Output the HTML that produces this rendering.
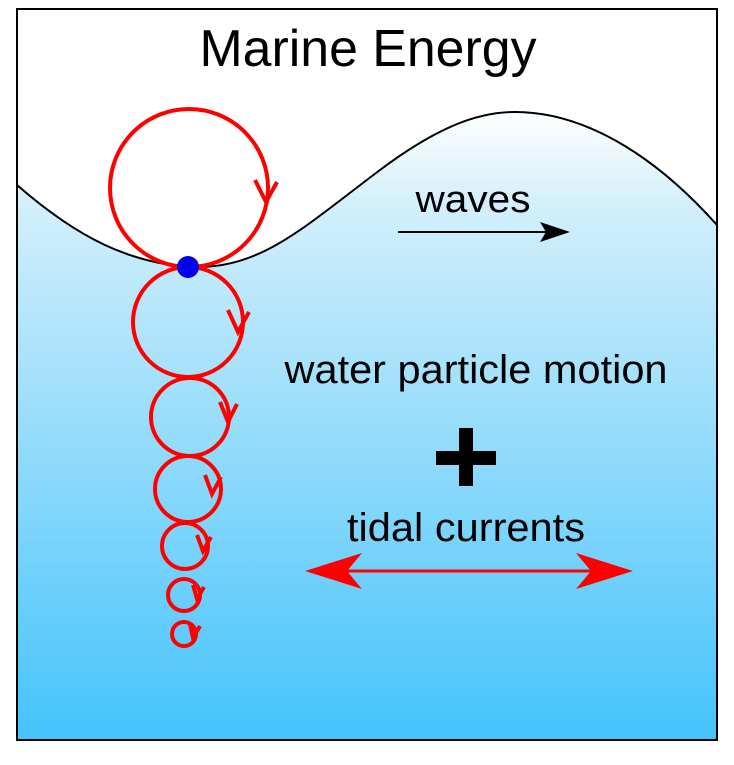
<!DOCTYPE html>
<html><head><style>body{margin:0;background:#fff}</style></head><body>
<svg width="734" height="760" viewBox="0 0 734 760" xmlns="http://www.w3.org/2000/svg">
<defs>
<linearGradient id="w" x1="0" y1="112" x2="0" y2="740" gradientUnits="userSpaceOnUse">
<stop offset="0" stop-color="#ffffff"/>
<stop offset="0.15" stop-color="#d2effb"/>
<stop offset="1" stop-color="#44c3fb"/>
</linearGradient>
</defs>
<path d="M17,185 C80,240 130,262 188,267 C260,270 300,230 380,170 C440,125 480,112 515,112 C580,112 650,150 717,225 L717,740 L17,740 Z" fill="url(#w)"/>
<path d="M17,185 C80,240 130,262 188,267 C260,270 300,230 380,170 C440,125 480,112 515,112 C580,112 650,150 717,225" fill="none" stroke="#000" stroke-width="2"/>
<rect x="17" y="9" width="700" height="731" fill="none" stroke="#000" stroke-width="2"/>
<g fill="none" stroke="#f00" stroke-width="4">
<circle cx="189" cy="188" r="79"/>
<circle cx="188" cy="322" r="55"/>
<circle cx="190" cy="417" r="39"/>
<circle cx="188" cy="489" r="33"/>
<circle cx="185" cy="546" r="23"/>
<circle cx="184" cy="595" r="16"/>
<circle cx="184" cy="634" r="12"/>
<path d="M255,180 L266,202 L277,182"/>
<path d="M228,310 L238,332 L249,312"/>
<path d="M220,402 L228,422 L237,404"/>
<path d="M205,475 L212,494 L221,477"/>
<path d="M197,535 L203,551 L211,537"/>
<path d="M193,585 L197,599 L204,587"/>
<path d="M190,624 L193,638 L200,626"/>
</g>
<circle cx="188" cy="267" r="11" fill="#0000ee"/>
<g font-family="Liberation Sans, sans-serif" fill="#000" text-anchor="middle">
<text x="368" y="66" font-size="52" textLength="337" lengthAdjust="spacingAndGlyphs">Marine Energy</text>
<text x="473" y="212" font-size="38" textLength="115" lengthAdjust="spacingAndGlyphs">waves</text>
<text x="476" y="383" font-size="40" textLength="383" lengthAdjust="spacingAndGlyphs">water particle motion</text>
<text x="466" y="541" font-size="40" textLength="238" lengthAdjust="spacingAndGlyphs">tidal currents</text>
</g>
<line x1="398" y1="232" x2="550" y2="232" stroke="#000" stroke-width="2"/>
<path d="M570,232 L540,222 L546,232 L540,242 Z" fill="#000"/>
<rect x="436" y="451" width="60" height="14" fill="#000"/>
<rect x="459" y="428" width="14" height="58" fill="#000"/>
<line x1="330" y1="571" x2="610" y2="571" stroke="#f00" stroke-width="3"/>
<path d="M305,571 L362,553 L347,571 L362,589 Z" fill="#f00"/>
<path d="M633,571 L576,553 L591,571 L576,589 Z" fill="#f00"/>
</svg>
</body></html>
